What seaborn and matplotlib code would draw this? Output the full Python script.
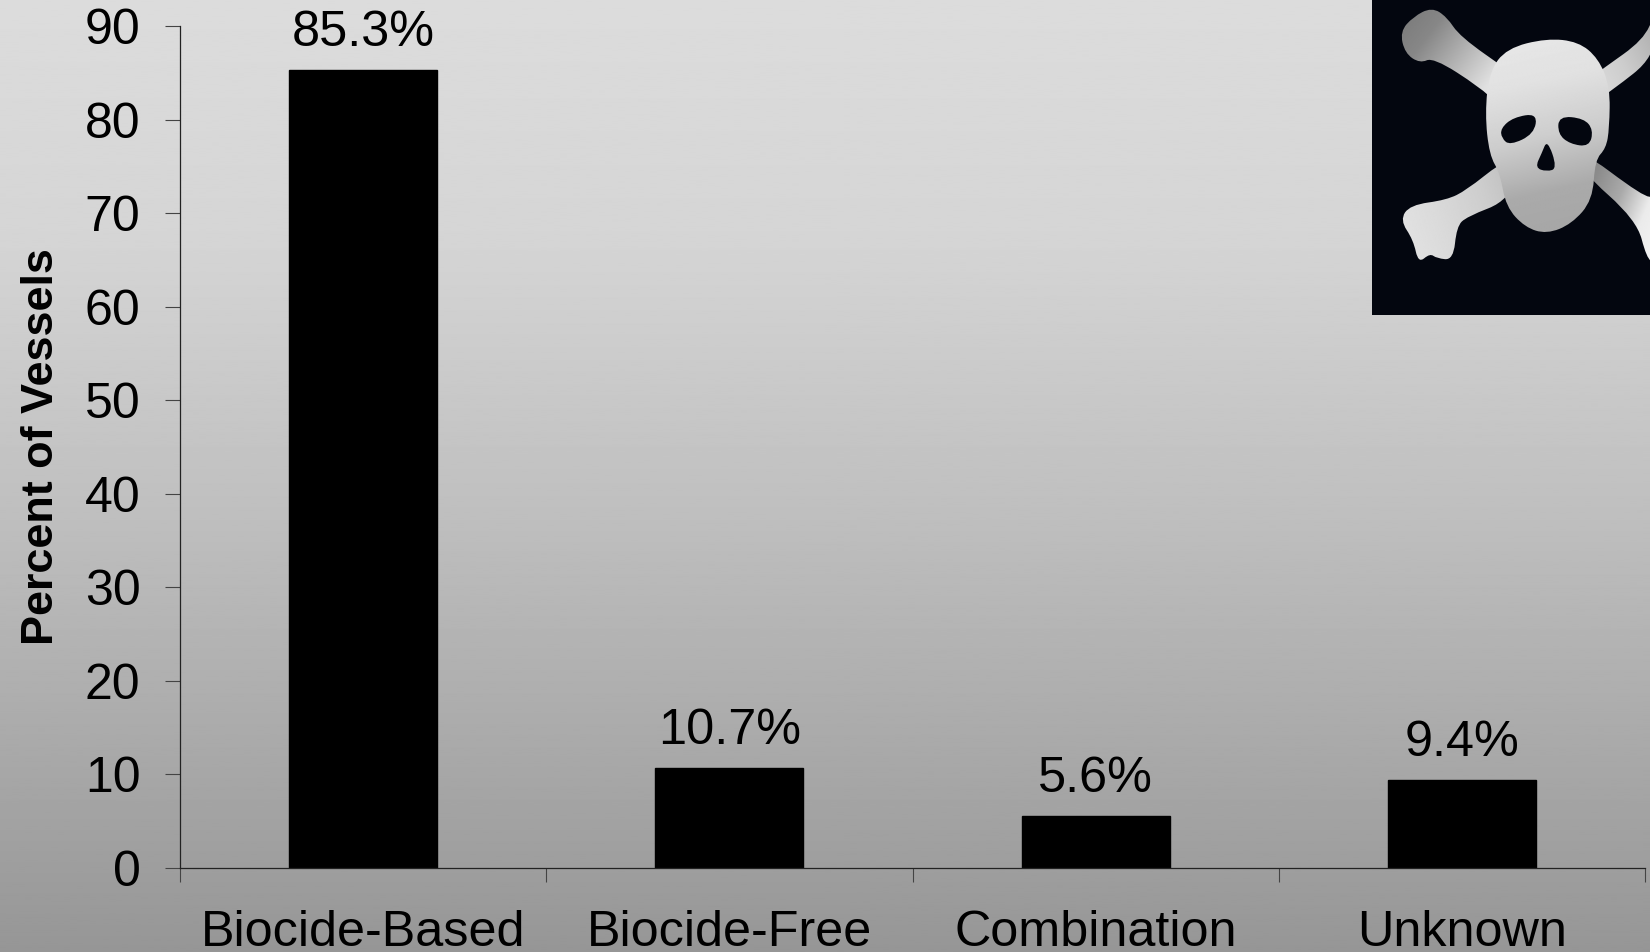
import numpy as np
import pandas as pd
import matplotlib
matplotlib.use("Agg")
import matplotlib.pyplot as plt
from matplotlib.path import Path
from matplotlib.patches import PathPatch
from matplotlib.ticker import FixedLocator
import seaborn as sns

categories = ["Biocide-Based", "Biocide-Free", "Combination", "Unknown"]
percent_vessels = [85.3, 10.7, 5.6, 9.4]
value_labels = ["85.3%", "10.7%", "5.6%", "9.4%"]
y_ticks = [0, 10, 20, 30, 40, 50, 60, 70, 80, 90]

W, H = 1650, 952
sns.set_style("ticks")
plt.rcParams["font.family"] = ["Liberation Sans", "DejaVu Sans"]

fig = plt.figure(figsize=(W / 100, H / 100), dpi=100)

# Slide background: vertical grey gradient
bg = fig.add_axes([0, 0, 1, 1], zorder=0)
bg.axis("off")
shade = np.interp(np.linspace(0, 1, 512), [0, 0.25, 0.55, 0.8, 1], [220, 213, 190, 168, 150])[:, None]
bg.imshow(shade, cmap="gray", vmin=0, vmax=255, aspect="auto", extent=[0, 1, 0, 1])

# Bar chart
ax = fig.add_axes([180 / W, 1 - 868 / H, (1645 - 180) / W, (868 - 26) / H], zorder=1)
ax.patch.set_alpha(0)
data = pd.DataFrame({"category": categories, "percent": percent_vessels})
sns.barplot(data=data, x="category", y="percent", color="black", saturation=1,
            width=0.404, edgecolor="black", linewidth=1, ax=ax)
ax.set_xlim(-0.5, 3.5)
ax.set_ylim(0, 90)
ax.set_yticks(y_ticks)
ax.set_xlabel("")
ax.set_ylabel("Percent of Vessels", fontsize=32.4, fontweight="bold", color="black", labelpad=16)
ax.tick_params(axis="y", length=10.5, width=0.8, color="#444444", labelsize=36, pad=18, labelcolor="black")
ax.tick_params(axis="x", which="major", length=0, labelsize=36.3, pad=30.5, labelcolor="black")
ax.xaxis.set_minor_locator(FixedLocator([-0.5, 0.5, 1.5, 2.5, 3.5]))
ax.tick_params(axis="x", which="minor", length=10, width=0.8, color="#444444")
for side in ("top", "right"):
    ax.spines[side].set_visible(False)
for side in ("left", "bottom"):
    ax.spines[side].set_linewidth(0.9)
    ax.spines[side].set_color("#222222")
ax.bar_label(ax.containers[0], labels=value_labels, fontsize=36.3, padding=10, color="black")

# Skull and crossbones emblem, drawn in its own pixel-like coordinates
emblem = fig.add_axes([1372 / W, 1 - 315 / H, (W - 1372) / W, 315 / H], zorder=2)
emblem.set_xlim(66, 900)
emblem.set_ylim(945, 0)
emblem.axis("off")
emblem.add_patch(plt.Rectangle((66, 0), 834, 945, color="#03060f", lw=0))


def smooth_path(points):
    pts = np.asarray(points, float)
    mids = (pts + np.roll(pts, -1, axis=0)) / 2
    verts = [mids[-1]]
    codes = [Path.MOVETO]
    for p, m in zip(pts, mids):
        verts += [p, m]
        codes += [Path.CURVE3, Path.CURVE3]
    return Path(verts, codes)


def shaded_shape(points, direction, stops):
    """Fill a smooth outline with a linear grey ramp along direction."""
    path = smooth_path(points)
    x0, y0 = np.min(points, axis=0)
    x1, y1 = np.max(points, axis=0)
    yy, xx = np.mgrid[0:1:200j, 0:1:200j]
    t = xx * direction[0] + yy * direction[1]
    t = (t - t.min()) / (t.max() - t.min())
    ramp = np.interp(t, np.linspace(0, 1, len(stops)), stops)
    im = emblem.imshow(ramp, cmap="gray", vmin=0, vmax=255, aspect="auto",
                       extent=[x0, x1, y1, y0], zorder=3, interpolation="bilinear")
    patch = PathPatch(path, transform=emblem.transData, fc="none", ec="none")
    emblem.add_patch(patch)
    im.set_clip_path(patch)


upper_left_bone = [(150, 95), (190, 50), (245, 22), (290, 50), (330, 110), (480, 215), (520, 250), (440, 310),
                   (390, 262), (250, 172), (210, 190), (165, 160)]
upper_right_bone = [(700, 250), (760, 205), (880, 120), (915, 40), (915, 170), (785, 272), (740, 300)]
lower_left_bone = [(520, 460), (480, 600), (350, 650), (320, 680), (310, 780), (260, 775), (240, 760),
                   (205, 790), (190, 720), (150, 660), (180, 615), (290, 600), (350, 570), (450, 490)]
lower_right_bone = [(680, 440), (880, 590), (915, 590), (915, 790), (890, 775), (860, 660), (690, 510)]
skull = [(590, 115), (685, 125), (745, 175), (780, 260), (778, 385), (768, 445), (735, 480), (728, 600),
         (665, 672), (590, 702), (525, 682), (468, 620), (450, 520), (418, 465), (405, 340), (418, 215),
         (470, 145)]
left_eye = [(452, 385), (490, 352), (562, 340), (552, 402), (480, 436), (455, 415)]
right_eye = [(626, 348), (702, 355), (730, 390), (718, 440), (660, 432), (624, 402)]
nose = [(592, 418), (622, 505), (590, 515), (555, 503), (575, 460)]

shaded_shape(upper_left_bone, (1, 0.6), [120, 135, 180, 225, 225])
shaded_shape(upper_right_bone, (1, -0.6), [225, 205, 170])
shaded_shape(lower_left_bone, (1, -0.3), [228, 218, 205, 185])
shaded_shape(lower_right_bone, (1, 0.6), [125, 140, 170, 235, 245])
shaded_shape(skull, (0.15, 1), [232, 225, 205, 170, 165])
for hole in (left_eye, right_eye, nose):
    emblem.add_patch(PathPatch(smooth_path(hole), fc="#03060f", ec="none", zorder=4))

fig.savefig("out.png", dpi=100)
